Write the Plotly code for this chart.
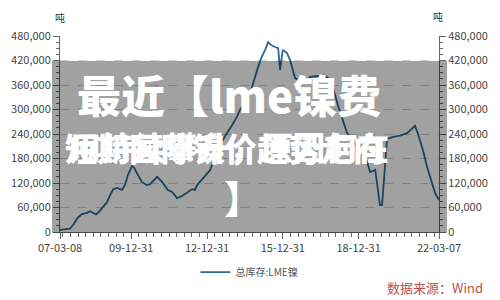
import plotly.graph_objects as go

# ---- data ----
dates = ["2007-03-08","2007-05-01","2007-07-30","2007-09-25","2007-11-20","2008-01-20","2008-04-01",
         "2008-05-15","2008-06-30","2008-08-10","2008-09-25","2008-11-05","2009-01-15","2009-03-01",
         "2009-04-15","2009-06-10","2009-08-20","2009-10-01","2009-11-15","2010-01-12","2010-02-10",
         "2010-03-25","2010-06-05","2010-08-15","2010-10-01","2011-01-10","2011-03-25","2011-06-15",
         "2011-08-15","2011-10-25","2012-01-05","2012-04-01","2012-05-28","2012-07-10","2012-08-10",
         "2012-11-05","2013-02-15","2013-05-25","2013-09-18","2013-12-30","2014-03-08","2014-04-20",
         "2014-07-03","2014-09-15","2014-11-25","2015-01-10","2015-03-05","2015-04-17","2015-06-01",
         "2015-07-15","2015-09-10","2015-10-25","2015-11-22","2015-12-31","2016-03-01","2016-04-15",
         "2016-06-25","2016-09-05","2016-11-18","2017-01-28","2017-05-25","2017-08-20","2017-10-15",
         "2017-12-25","2018-03-08","2018-05-20","2018-07-18","2018-09-28","2018-12-20","2019-03-05",
         "2019-05-02","2019-06-15","2019-08-28","2019-10-05","2019-11-05","2019-12-05","2019-12-18",
         "2020-01-17","2020-02-15","2020-05-15","2020-08-20","2020-12-01","2021-02-25","2021-03-25",
         "2021-05-08","2021-06-05","2021-07-18","2021-09-15","2021-11-25","2022-01-10","2022-03-07"]
stock = [5000,6000,8000,20000,35000,44000,47000,
         51000,47000,43000,50000,59000,73000,90000,
         105000,108000,103000,115000,140000,162000,158000,
         144000,122000,115000,117000,135000,122000,103000,
         98000,83000,88000,98000,105000,103000,115000,
         132000,152000,200000,235000,262000,282000,299000,
         315000,340000,380000,405000,430000,445000,465000,
         458000,453000,450000,397000,446000,438000,421000,
         377000,370000,365000,380000,382000,385000,377000,
         355000,310000,274000,242000,225000,205000,190000,
         172000,147000,152000,110000,66000,66000,95000,
         176000,228000,233000,236000,242000,255000,260000,
         240000,225000,200000,160000,120000,95000,78000]

series_name = "总库存:LME镍"
tick_dates = ["2007-03-08","2009-12-31","2012-12-31","2015-12-31","2018-12-31","2022-03-07"]
tick_text = ["07-03-08","09-12-31","12-12-31","15-12-31","18-12-31","22-03-07"]
y_ticks = [0,60000,120000,180000,240000,300000,360000,420000,480000]
unit = "吨"
source = "数据来源：Wind"
title_l1 = "最近【lme镍费"
title_l2a = "用持续攀升，原因何在"
title_l2b = "短期国际镍价趋势走向"
title_l3 = "】"

FONT = "Noto Sans CJK SC"
AX = "#666666"
LINE = "#2a6a94"

fig = go.Figure()
fig.add_trace(go.Scatter(x=dates, y=stock, mode="lines", name=series_name,
                         line=dict(color=LINE, width=1.8)))
fig.add_trace(go.Scatter(x=dates, y=stock, mode="lines", yaxis="y2", showlegend=False,
                         opacity=0, hoverinfo="skip", line=dict(color=LINE, width=1)))

yax = dict(range=[0, 480000], tickvals=y_ticks, tickformat=",d", showline=True, linecolor=AX,
           linewidth=1, ticks="outside", ticklen=6, tickcolor=AX, zeroline=False,
           tickfont=dict(family=FONT, size=11, color="#444444"),
           minor=dict(ticks="outside", ticklen=3, dtick=15000, tickcolor=AX, showgrid=False))
fig.update_layout(
    width=500, height=300, autosize=False,
    margin=dict(l=60, r=61, t=36, b=68),
    paper_bgcolor="white", plot_bgcolor="white",
    xaxis=dict(type="date", range=["2007-03-08", "2022-03-07"], tickvals=tick_dates, ticktext=tick_text,
               showline=True, linecolor=AX, linewidth=1, ticks="outside", ticklen=6, tickcolor=AX,
               showgrid=False, zeroline=False,
               tickfont=dict(family=FONT, size=11, color="#444444"),
               minor=dict(ticks="outside", ticklen=4, tick0="2009-12-31", dtick=9469440000,
                          tickcolor=AX, showgrid=False)),
    yaxis=dict(**yax, side="left", showgrid=True, gridcolor="#cfcfcf", griddash="dash", gridwidth=1),
    yaxis2=dict(**yax, side="right", overlaying="y", showgrid=False),
    showlegend=True,
    legend=dict(orientation="h", x=0.5, xanchor="center", y=-0.205, yanchor="middle",
                font=dict(family=FONT, size=10, color="#555555"), bgcolor="rgba(0,0,0,0)"),
)

# unit labels and source
fig.add_annotation(text=unit, xref="paper", yref="paper", x=0, y=1.092, showarrow=False,
                   xanchor="center", yanchor="middle", font=dict(family=FONT, size=10, color="#333333"))
fig.add_annotation(text=unit, xref="paper", yref="paper", x=0.997, y=1.097, showarrow=False,
                   xanchor="center", yanchor="middle", font=dict(family=FONT, size=10, color="#333333"))
fig.add_annotation(text=source, xref="paper", yref="paper", x=1.121, y=-0.281, showarrow=False,
                   xanchor="right", yanchor="middle", font=dict(family=FONT, size=13, color="#c0504d"))

# gray overlay banner
fig.add_shape(type="rect", xref="paper", yref="paper", x0=-0.0211, x1=1.0211, y0=-0.004, y1=0.8724,
              fillcolor="rgba(0,0,0,0.37)", line=dict(width=0), layer="above")

tf = dict(family=FONT, size=44, color="white", weight=900)
fig.add_annotation(text=title_l1, xref="paper", yref="paper", x=0.446, y=0.703, showarrow=False,
                   xanchor="center", yanchor="middle", font=tf)
tf2 = dict(family=FONT, size=32, color="white", weight=900)
fig.add_annotation(text=title_l2b, xref="paper", yref="paper", x=0.436, y=0.434, showarrow=False,
                   xanchor="center", yanchor="middle", font=tf2)
fig.add_annotation(text=title_l2a, xref="paper", yref="paper", x=0.446, y=0.438, showarrow=False,
                   xanchor="center", yanchor="middle", font=tf2)
tf3 = dict(family=FONT, size=38, color="white", weight=900)
fig.add_annotation(text=title_l3, xref="paper", yref="paper", x=0.4274, y=0.179, showarrow=False,
                   xanchor="left", yanchor="middle", font=tf3)

fig.write_html("out.html")
